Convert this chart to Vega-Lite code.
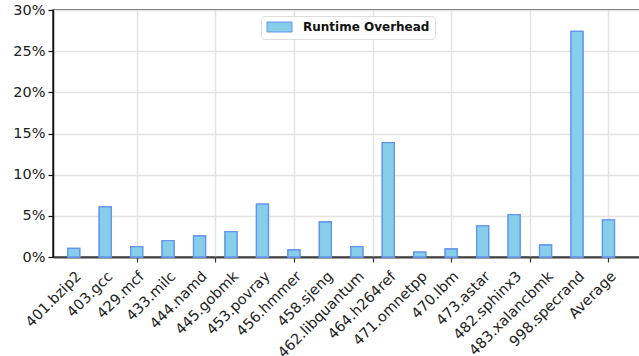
{
  "$schema": "https://vega.github.io/schema/vega-lite/v6.json",
  "autosize": "none",
  "width": 587,
  "height": 247,
  "padding": {"left": 53, "top": 10, "right": 0, "bottom": 99},
  "background": "white",
  "config": {
    "view": {"stroke": "#333333", "strokeWidth": 1.5},
    "font": "DejaVu Sans",
    "axis": {"labelFont": "DejaVu Sans", "labelColor": "#222222", "labelFontSize": 14}
  },
  "data": {
    "values": [
      {"i": 0, "benchmark": "401.bzip2", "series": "Runtime Overhead", "overhead": 1.05},
      {"i": 1, "benchmark": "403.gcc", "series": "Runtime Overhead", "overhead": 6.1},
      {"i": 2, "benchmark": "429.mcf", "series": "Runtime Overhead", "overhead": 1.25},
      {"i": 3, "benchmark": "433.milc", "series": "Runtime Overhead", "overhead": 1.98},
      {"i": 4, "benchmark": "444.namd", "series": "Runtime Overhead", "overhead": 2.55},
      {"i": 5, "benchmark": "445.gobmk", "series": "Runtime Overhead", "overhead": 3.07},
      {"i": 6, "benchmark": "453.povray", "series": "Runtime Overhead", "overhead": 6.42},
      {"i": 7, "benchmark": "456.hmmer", "series": "Runtime Overhead", "overhead": 0.85},
      {"i": 8, "benchmark": "458.sjeng", "series": "Runtime Overhead", "overhead": 4.25},
      {"i": 9, "benchmark": "462.libquantum", "series": "Runtime Overhead", "overhead": 1.25},
      {"i": 10, "benchmark": "464.h264ref", "series": "Runtime Overhead", "overhead": 13.9},
      {"i": 11, "benchmark": "471.omnetpp", "series": "Runtime Overhead", "overhead": 0.6},
      {"i": 12, "benchmark": "470.lbm", "series": "Runtime Overhead", "overhead": 0.97},
      {"i": 13, "benchmark": "473.astar", "series": "Runtime Overhead", "overhead": 3.77},
      {"i": 14, "benchmark": "482.sphinx3", "series": "Runtime Overhead", "overhead": 5.14},
      {"i": 15, "benchmark": "483.xalancbmk", "series": "Runtime Overhead", "overhead": 1.46},
      {"i": 16, "benchmark": "998.specrand", "series": "Runtime Overhead", "overhead": 27.4},
      {"i": 17, "benchmark": "Average", "series": "Runtime Overhead", "overhead": 4.5}
    ]
  },
  "resolve": {"axis": {"x": "independent"}},
  "layer": [
    {
      "mark": {"type": "bar", "size": 12, "fill": "#87CEEB", "stroke": "#6495ED", "strokeWidth": 1.3},
      "encoding": {
        "x": {
          "field": "i", "type": "quantitative",
          "scale": {"domain": [-0.5, 17.84375], "nice": false, "zero": false},
          "axis": {
            "orient": "bottom", "title": null, "labels": false, "domain": false,
            "values": [2, 4.5, 7, 9.5, 12, 14.5, 17],
            "grid": true, "gridColor": "#e3e3e3", "gridWidth": 1.5,
            "ticks": true, "tickSize": 5, "tickColor": "#333333", "tickWidth": 1.2
          }
        },
        "y": {
          "field": "overhead", "type": "quantitative",
          "scale": {"domain": [0, 30], "nice": false},
          "axis": {
            "title": null, "values": [0, 5, 10, 15, 20, 25, 30],
            "labelExpr": "datum.value + '%'", "labelFontSize": 14.5, "labelPadding": 3,
            "grid": true, "gridColor": "#e3e3e3", "gridWidth": 1.5,
            "domain": true, "domainColor": "#111111", "domainWidth": 1.5,
            "tickSize": 5, "tickColor": "#111111", "tickWidth": 1.2
          }
        },
        "color": {
          "field": "series", "type": "nominal",
          "scale": {"range": ["#87CEEB"]},
          "legend": {
            "title": null, "orient": "none", "legendX": 208, "legendY": 6,
            "symbolType": "M-1,-1H4V1H-1Z", "symbolSize": 100,
            "symbolStrokeColor": "#6495ED", "symbolStrokeWidth": 1, "symbolFillColor": "#87CEEB",
            "labelFont": "DejaVu Sans", "labelFontWeight": "bold", "labelFontSize": 12, "labelColor": "#111111",
            "labelOffset": 25,
            "fillColor": "white", "strokeColor": "#dddddd", "cornerRadius": 3, "padding": 5
          }
        }
      }
    },
    {
      "mark": {"type": "bar", "size": 12, "fill": "#87CEEB", "stroke": "#6495ED", "strokeWidth": 1.3},
      "encoding": {
        "x": {
          "field": "i", "type": "quantitative",
          "scale": {"domain": [-0.5, 17.84375], "nice": false, "zero": false},
          "axis": {
            "orient": "bottom", "title": null,
            "values": [0, 1, 2, 3, 4, 5, 6, 7, 8, 9, 10, 11, 12, 13, 14, 15, 16, 17],
            "labelExpr": "['401.bzip2','403.gcc','429.mcf','433.milc','444.namd','445.gobmk','453.povray','456.hmmer','458.sjeng','462.libquantum','464.h264ref','471.omnetpp','470.lbm','473.astar','482.sphinx3','483.xalancbmk','998.specrand','Average'][datum.value]",
            "labelAngle": -45, "labelAlign": "right", "labelBaseline": "top",
            "labelPadding": 12, "labelFontSize": 14.5, "labelOverlap": false, "labelBound": false,
            "grid": false, "ticks": false,
            "domain": true, "domainColor": "#444444", "domainWidth": 1.8
          }
        },
        "y": {"field": "overhead", "type": "quantitative", "scale": {"domain": [0, 30], "nice": false}}
      }
    }
  ]
}
